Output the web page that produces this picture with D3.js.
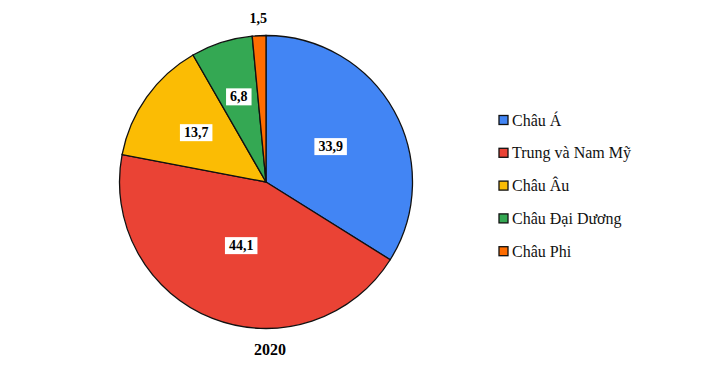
<!DOCTYPE html>
<html>
<head>
<meta charset="utf-8">
<script src="https://cdn.jsdelivr.net/npm/d3@7"></script>
<style>
    body { margin: 0; background: #fff; }
    text { font-family: "Liberation Serif", "DejaVu Serif", serif; }
</style>
</head>
<body>
<div id="chart"></div>
<script>

var categories = ["Châu Á", "Trung và Nam Mỹ", "Châu Âu", "Châu Đại Dương", "Châu Phi"];
var values = [33.9, 44.1, 13.7, 6.8, 1.5];
var colors = ["#4285f4", "#ea4335", "#fbbc04", "#34a853", "#ff6d01"];
var yearLabel = "2020";

var width = 722,
    height = 374,
    cx = 266,
    cy = 182,
    radius = 146.5;

var svg = d3.select("#chart").append("svg")
    .attr("width", width)
    .attr("height", height);

var g = svg.append("g")
    .attr("transform", "translate(" + cx + "," + cy + ")");

var pie = d3.pie()
    .sort(null)
    .value(function (d) { return d; });

var arc = d3.arc()
    .innerRadius(0)
    .outerRadius(radius);

var arcs = pie(values);

g.selectAll(".slice")
    .data(arcs)
    .enter().append("path")
    .attr("class", "slice")
    .attr("d", arc)
    .attr("fill", function (d, i) { return colors[i]; })
    .attr("stroke", "#111")
    .attr("stroke-width", 1.3);

// labels: big slices sit closer to the centre, tiny ones go outside
function labelPos(d) {
    var mid = (d.startAngle + d.endAngle) / 2;
    var r = d.value < 3 ? radius + 18 : radius * (0.64 - 0.004 * d.value);
    return [Math.sin(mid) * r, -Math.cos(mid) * r];
}

var labels = g.selectAll(".lbl")
    .data(arcs)
    .enter().append("g")
    .attr("class", "lbl")
    .attr("transform", function (d) {
        var p = labelPos(d);
        return "translate(" + p[0] + "," + p[1] + ")";
    });

labels.append("text")
    .attr("text-anchor", "middle")
    .attr("dy", "0.35em")
    .style("font-size", "14px")
    .style("font-weight", "bold")
    .text(function (d) { return String(d.value).replace(".", ","); });

labels.each(function (d) {
    var el = d3.select(this);
    var bb = el.select("text").node().getBBox();
    if (d.value >= 3) {
        el.insert("rect", "text")
            .attr("x", bb.x - 4)
            .attr("y", bb.y - 1)
            .attr("width", bb.width + 8)
            .attr("height", bb.height + 2)
            .attr("fill", "#fff");
    }
});

svg.append("text")
    .attr("x", cx + 4)
    .attr("y", 355)
    .attr("text-anchor", "middle")
    .style("font-size", "16px")
    .style("font-weight", "bold")
    .text(yearLabel);

var legend = svg.append("g")
    .attr("transform", "translate(499,120)");

var rows = legend.selectAll(".row")
    .data(categories)
    .enter().append("g")
    .attr("class", "row")
    .attr("transform", function (d, i) { return "translate(0," + (i * 32.8) + ")"; });

rows.append("rect")
    .attr("x", 0)
    .attr("y", -4.5)
    .attr("width", 9)
    .attr("height", 9)
    .attr("fill", function (d, i) { return colors[i]; })
    .attr("stroke", "#111")
    .attr("stroke-width", 1.3);

rows.append("text")
    .attr("x", 13)
    .attr("dy", "0.35em")
    .style("font-size", "16px")
    .style("fill", "#111")
    .text(function (d) { return d; });

</script>
</body>
</html>
